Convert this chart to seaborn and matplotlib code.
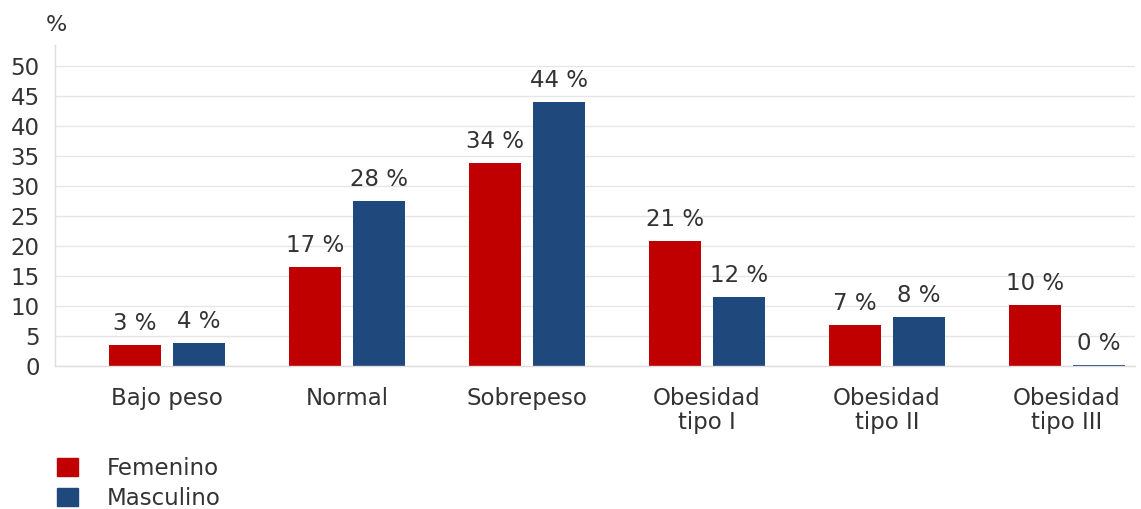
import matplotlib
matplotlib.use("Agg")
import matplotlib.pyplot as plt
import seaborn as sns
import pandas as pd
from matplotlib.patches import Patch

categories = ["Bajo peso", "Normal", "Sobrepeso", "Obesidad\ntipo I", "Obesidad\ntipo II", "Obesidad\ntipo III"]
series = ["Femenino", "Masculino"]
femenino = [3.5, 16.5, 33.8, 20.8, 6.8, 10.2]
masculino = [3.8, 27.5, 44.0, 11.5, 8.2, 0.2]
fem_labels = ["3 %", "17 %", "34 %", "21 %", "7 %", "10 %"]
mas_labels = ["4 %", "28 %", "44 %", "12 %", "8 %", "0 %"]
yticks = [0, 5, 10, 15, 20, 25, 30, 35, 40, 45, 50]
colors = ["#C00000", "#1F497D"]

df = pd.DataFrame({
    "cat": categories * 2,
    "sexo": [series[0]] * len(categories) + [series[1]] * len(categories),
    "val": femenino + masculino,
})

sns.set_theme(style="white")
plt.rcParams["font.family"] = ["DejaVu Sans"]
txt = "#333333"
fs = 16.5

fig = plt.figure(figsize=(11.41, 5.09), dpi=100)
ax = fig.add_axes([55/1141, 1 - 366/509, (1135-55)/1141, (366-45)/509])

sns.barplot(data=df, x="cat", y="val", hue="sexo", palette=colors, order=categories,
            hue_order=series, width=0.711, gap=0.1875, ax=ax, legend=False,
            saturation=1, errorbar=None, linewidth=0)

for cont, labs in zip(ax.containers, [fem_labels, mas_labels]):
    ax.bar_label(cont, labels=labs, padding=7, fontsize=fs, color=txt)

ax.set_ylim(0, 53.5)
ax.set_xlim(-0.622, 5.378)
ax.set_yticks(yticks)
ax.set_yticklabels([str(v) for v in yticks], fontsize=fs, color=txt)
ax.tick_params(axis="y", length=0, pad=11)
ax.tick_params(axis="x", length=0, pad=15, labelsize=fs, labelcolor=txt)
for lbl in ax.get_xticklabels():
    lbl.set_linespacing(1.05)
ax.set_xlabel("")
ax.set_ylabel("")
ax.yaxis.grid(True, color="#E6E6E6", linewidth=1)
ax.set_axisbelow(True)
for s in ["top", "right"]:
    ax.spines[s].set_visible(False)
for s in ["left", "bottom"]:
    ax.spines[s].set_color("#DDDDDD")
    ax.spines[s].set_linewidth(1)

fig.text(46/1141, 1 - 25/509, "%", fontsize=16, color=txt, va="center", ha="left")

handles = [Patch(facecolor=c, edgecolor=c, label=s) for c, s in zip(colors, series)]
fig.legend(handles=handles, loc="upper left", bbox_to_anchor=(57/1141, 1 - 457/509),
           frameon=False, fontsize=fs, labelcolor=txt, handlelength=0.9, handleheight=0.85,
           handletextpad=1.25, labelspacing=0.3, borderpad=0, borderaxespad=0)

fig.savefig("out.png", dpi=100)
